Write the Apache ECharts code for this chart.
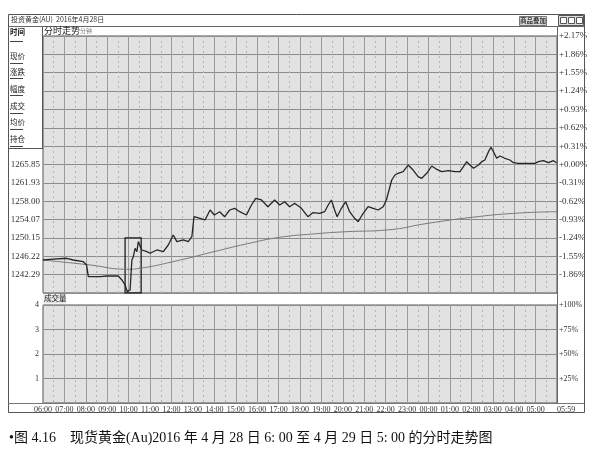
<!DOCTYPE html>
<html><head><meta charset="utf-8">
<script src="https://cdn.jsdelivr.net/npm/echarts@6/dist/echarts.min.js"></script>
<style>html,body{margin:0;padding:0;background:#fff}#c{width:610px;height:459px}</style>
</head><body><div id="c"></div><script>
// ---- data ----
const timeLabels = ['06:00','07:00','08:00','09:00','10:00','11:00','12:00','13:00','14:00','15:00','16:00','17:00','18:00','19:00','20:00','21:00','22:00','23:00','00:00','01:00','02:00','03:00','04:00','05:00','05:59'];
const basePrice = 1265.85;
const priceStep = 3.925;
const priceTickLabels = ['','1242.29','1246.22','1250.15','1254.07','1258.00','1261.93','1265.85','','','','','','',''];
const pctTickLabels = ['','-1.86%','-1.55%','-1.24%','-0.93%','-0.62%','-0.31%','+0.00%','+0.31%','+0.62%','+0.93%','+1.24%','+1.55%','+1.86%','+2.17%'];
const volTickLabels = ['','1','2','3','4'];
const volPctTickLabels = ['','+25%','+50%','+75%','+100%'];
// minutes since 06:00
const priceTimes = [0,20,66,85,113,122,127,141,160,179,211,221,230,236,244,249,253,258,263,267,272,277,291,300,319,337,351,365,375,393,407,417,423,440,454,468,480,495,509,523,537,551,570,584,596,612,630,649,663,677,691,705,724,742,756,775,789,799,808,817,824,836,848,859,873,883,897,911,925,939,953,962,977,986,995,1009,1023,1037,1051,1061,1075,1089,1103,1117,1136,1154,1168,1178,1187,1196,1206,1220,1229,1238,1248,1255,1262,1271,1280,1294,1308,1318,1332,1360,1378,1388,1402,1416,1430,1439];
const prices = [1245.43,1245.58,1245.80,1245.43,1245.07,1244.37,1241.86,1241.86,1241.86,1242.01,1242.01,1241.16,1240.09,1238.66,1239.02,1245.43,1246.14,1247.94,1247.21,1249.35,1249.35,1247.57,1247.21,1246.87,1247.57,1247.21,1248.64,1250.78,1249.35,1249.71,1249.35,1250.41,1254.69,1254.35,1253.99,1256.12,1255.05,1255.76,1254.69,1256.12,1256.49,1255.76,1255.05,1257.19,1258.62,1258.26,1256.83,1258.26,1257.19,1257.90,1256.83,1257.56,1256.49,1254.69,1255.55,1255.42,1255.76,1257.19,1258.26,1256.12,1254.69,1256.49,1257.90,1255.76,1254.35,1253.62,1255.42,1256.83,1256.49,1256.12,1256.83,1258.26,1262.54,1263.61,1263.97,1264.31,1265.74,1264.67,1263.24,1262.90,1263.97,1265.53,1264.82,1264.31,1264.52,1264.31,1264.31,1265.38,1266.45,1265.74,1265.04,1265.74,1266.45,1266.81,1268.59,1269.53,1268.59,1267.18,1267.67,1267.18,1266.81,1266.23,1266.11,1266.11,1266.11,1266.45,1266.66,1266.23,1266.66,1266.23];
const avgTimes = [0,132,235,272,364,479,569,664,756,849,964,1079,1202,1322,1440];
const avgPrices = [1245.43,1244.37,1243.45,1243.66,1245.07,1247.21,1248.85,1250.29,1250.99,1251.48,1251.85,1253.28,1254.56,1255.42,1255.76];
const boxTimes = [230, 275];
const boxPrices = [1238.4, 1250.15];
const sideItems = ['时间','现价','涨跌','幅度','成交','均价','持仓'];
const captionText = '•图 4.16\u3000现货黄金(Au)2016 年 4 月 28 日 6: 00 至 4 月 29 日 5: 00 的分时走势图';

// ---- chart ----
const pMin = basePrice - 7 * priceStep, pMax = basePrice + 7 * priceStep;
const FONT = 'Liberation Serif';
const gridLine = '#8c8c8c';
const chart = echarts.init(document.getElementById('c'), null, {renderer: 'canvas'});

function timeAxis(gi, showLabel) {
  return {
    type: 'value', gridIndex: gi, min: 0, max: 1440, interval: 60,
    axisLine: {show: false}, axisTick: {show: false},
    axisLabel: {show: showLabel, margin: 3, fontSize: 8, fontFamily: FONT, color: '#333',
      showMinLabel: true, showMaxLabel: true, alignMaxLabel: 'left', hideOverlap: false,
      formatter: v => timeLabels[Math.round(v / 60)] || ''},
    splitLine: {show: true, lineStyle: {color: '#9a9a9a', width: 1}},
    minorTick: {show: false, splitNumber: 2},
    minorSplitLine: {show: true, lineStyle: {color: '#b4b4b4', type: [2, 3], width: 1}}
  };
}

chart.setOption({
  animation: false,
  backgroundColor: '#fff',
  grid: [
    {left: 43, top: 36, width: 514, height: 257, show: true, backgroundColor: '#e2e2e2', borderColor: '#555', borderWidth: 1, containLabel: false},
    {left: 43, top: 305, width: 514, height: 98, show: true, backgroundColor: '#e2e2e2', borderColor: '#555', borderWidth: 1, containLabel: false}
  ],
  xAxis: [timeAxis(0, false), timeAxis(1, true)],
  yAxis: [
    {type: 'value', gridIndex: 0, position: 'left', min: pMin, max: pMax, interval: priceStep,
      axisLine: {show: false}, axisTick: {show: false},
      axisLabel: {margin: 3, fontSize: 9, fontFamily: FONT, color: '#333', showMinLabel: true, showMaxLabel: true,
        formatter: v => priceTickLabels[Math.round((v - pMin) / priceStep)] || ''},
      splitLine: {show: true, lineStyle: {color: gridLine, width: 1}}},
    {type: 'value', gridIndex: 0, position: 'right', min: -2.17, max: 2.17, interval: 0.31,
      axisLine: {show: false}, axisTick: {show: false},
      axisLabel: {margin: 2, fontSize: 9, fontFamily: FONT, color: '#333', showMinLabel: true, showMaxLabel: true,
        formatter: v => pctTickLabels[Math.round((v + 2.17) / 0.31)] || ''},
      splitLine: {show: false}},
    {type: 'value', gridIndex: 1, position: 'left', min: 0, max: 4, interval: 1,
      axisLine: {show: false}, axisTick: {show: false},
      axisLabel: {margin: 4, fontSize: 8, fontFamily: FONT, color: '#333', showMaxLabel: true,
        formatter: v => volTickLabels[Math.round(v)] || ''},
      splitLine: {show: true, lineStyle: {color: gridLine, width: 1}}},
    {type: 'value', gridIndex: 1, position: 'right', min: 0, max: 100, interval: 25,
      axisLine: {show: false}, axisTick: {show: false},
      axisLabel: {margin: 2, fontSize: 8, fontFamily: FONT, color: '#333', showMaxLabel: true,
        formatter: v => volPctTickLabels[Math.round(v / 25)] || ''},
      splitLine: {show: false}}
  ],
  series: [
    {type: 'line', xAxisIndex: 0, yAxisIndex: 0, smooth: true, showSymbol: false, silent: true,
      lineStyle: {color: '#7a7a7a', width: 1},
      data: avgTimes.map((t, i) => [t, avgPrices[i]])},
    {type: 'line', xAxisIndex: 0, yAxisIndex: 0, showSymbol: false, silent: true,
      lineStyle: {color: '#262626', width: 1.3},
      data: priceTimes.map((t, i) => [t, prices[i]]),
      markArea: {silent: true,
        itemStyle: {color: 'rgba(0,0,0,0)', borderColor: '#1e1e1e', borderWidth: 1.3},
        data: [[{coord: [boxTimes[0], boxPrices[1]]}, {coord: [boxTimes[1], boxPrices[0]]}]]}},
    {type: 'bar', xAxisIndex: 1, yAxisIndex: 2, data: []}
  ],
  graphic: [
    // outer frame & header
    {type: 'rect', shape: {x: 8.5, y: 14.5, width: 576, height: 398}, style: {fill: 'none', stroke: '#555', lineWidth: 1}, z: 100},
    {type: 'line', shape: {x1: 8, y1: 26.5, x2: 584, y2: 26.5}, style: {stroke: '#666', lineWidth: 1}, z: 100},
    {type: 'text', left: 11, top: 16, style: {text: '投资黄金(AU)  2016年4月28日', font: '7px "Noto Sans CJK SC"', fill: '#333'}, z: 100},
    {type: 'rect', shape: {x: 519.5, y: 16.5, width: 27, height: 9}, style: {fill: '#ddd', stroke: '#777', lineWidth: 1}, z: 100},
    {type: 'text', left: 520, top: 17, style: {text: '商品叠加', font: 'bold 6.5px "Noto Sans CJK SC"', fill: '#333'}, z: 101},
    {type: 'rect', shape: {x: 558.5, y: 15.5, width: 25, height: 10}, style: {fill: '#ddd', stroke: '#555', lineWidth: 1}, z: 100},
    {type: 'rect', shape: {x: 560.5, y: 17.5, width: 6, height: 6}, style: {fill: '#fff', stroke: '#555', lineWidth: 1}, z: 101},
    {type: 'rect', shape: {x: 568.5, y: 17.5, width: 6, height: 6}, style: {fill: '#fff', stroke: '#555', lineWidth: 1}, z: 101},
    {type: 'rect', shape: {x: 576.5, y: 17.5, width: 6, height: 6}, style: {fill: '#fff', stroke: '#555', lineWidth: 1}, z: 101},
    // chart header strip
    {type: 'text', left: 44, top: 26, style: {text: '分时走势', font: '9px "Noto Sans CJK SC"', fill: '#222'}, z: 100},
    {type: 'text', left: 80, top: 28, style: {text: '分钟', font: '6px "Noto Sans CJK SC"', fill: '#777'}, z: 100},
    {type: 'line', shape: {x1: 557.5, y1: 26, x2: 557.5, y2: 404}, style: {stroke: '#666', lineWidth: 1}, z: 100},
    // sidebar
    {type: 'line', shape: {x1: 42.5, y1: 26, x2: 42.5, y2: 148}, style: {stroke: '#555', lineWidth: 1}, z: 100},
    {type: 'line', shape: {x1: 8, y1: 148.5, x2: 43, y2: 148.5}, style: {stroke: '#555', lineWidth: 1}, z: 100},
    ...sideItems.map((s, i) => ({type: 'text', left: 10, top: [28, 52, 68, 85, 102, 118, 135][i],
      style: {text: s, font: (i === 0 ? 'bold ' : '') + '7.5px "Noto Sans CJK SC"', fill: '#222'}, z: 100})),
    ...sideItems.map((s, i) => ({type: 'line', shape: {x1: 10, y1: [41.5, 63.5, 78.5, 95.5, 113.5, 129.5, 146.5][i], x2: 23, y2: [41.5, 63.5, 78.5, 95.5, 113.5, 129.5, 146.5][i]},
      style: {stroke: '#444', lineWidth: 1}, z: 100})),
    // volume header
    {type: 'rect', shape: {x: 43.5, y: 294.5, width: 22, height: 9}, style: {fill: '#e4e4e4', stroke: 'none'}, z: 100},
    {type: 'text', left: 44, top: 294, style: {text: '成交量', font: '7.5px "Noto Sans CJK SC"', fill: '#222'}, z: 101},
    // bottom label strip
    {type: 'line', shape: {x1: 8, y1: 403.5, x2: 584, y2: 403.5}, style: {stroke: '#777', lineWidth: 1}, z: 100},
    // caption
    {type: 'text', left: 9, top: 431, style: {text: captionText, font: '14px "Liberation Serif", "Noto Sans CJK SC"', fill: '#111'}, z: 100}
  ]
});
</script></body></html>
